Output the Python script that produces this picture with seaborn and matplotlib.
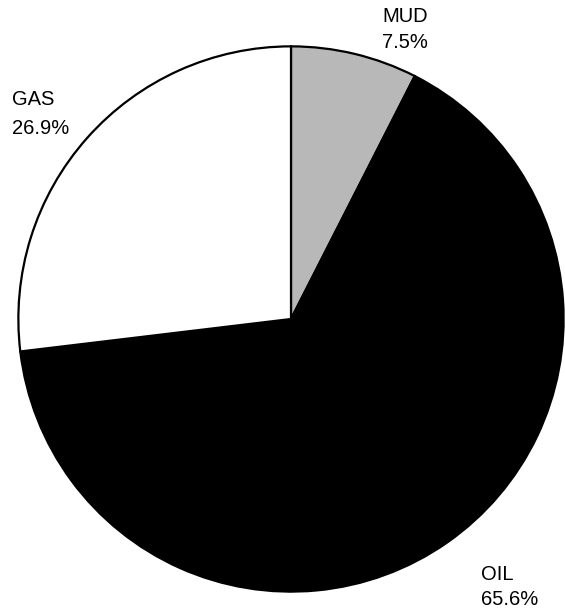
import matplotlib
matplotlib.use("Agg")
import matplotlib.pyplot as plt
import seaborn as sns

categories = ["MUD", "OIL", "GAS"]
values = [7.5, 65.6, 26.9]
pct_labels = ["7.5%", "65.6%", "26.9%"]
colors = ["#b8b8b8", "#000000", "#ffffff"]

sns.set_theme(style="white")
plt.rcParams['font.family'] = ['Liberation Sans', 'DejaVu Sans']

W, H = 565, 609
fig = plt.figure(figsize=(W / 100, H / 100), dpi=100)
cx, cy, r = 291, 319, 274
ax = fig.add_axes([(cx - r) / W, (H - cy - r) / H, 2 * r / W, 2 * r / H])
ax.pie(values, colors=colors, startangle=90, counterclock=False, radius=1,
       wedgeprops=dict(edgecolor="black", linewidth=1.6))
ax.set_xlim(-1.005, 1.005)
ax.set_ylim(-1.005, 1.005)
ax.set_aspect("equal")
ax.axis("off")

# (left x, baseline of name, baseline of percent) in pixels
pos = {"MUD": (382, 22, 48), "OIL": (481, 580, 605), "GAS": (12, 105, 134)}
for cat, pct in zip(categories, pct_labels):
    x, y1, y2 = pos[cat]
    fig.text(x / W, 1 - y1 / H, cat, ha="left", va="baseline", fontsize=14.5, color="black")
    fig.text(x / W, 1 - y2 / H, pct, ha="left", va="baseline", fontsize=14.5, color="black")

fig.savefig("out.png", dpi=100, facecolor="white")
